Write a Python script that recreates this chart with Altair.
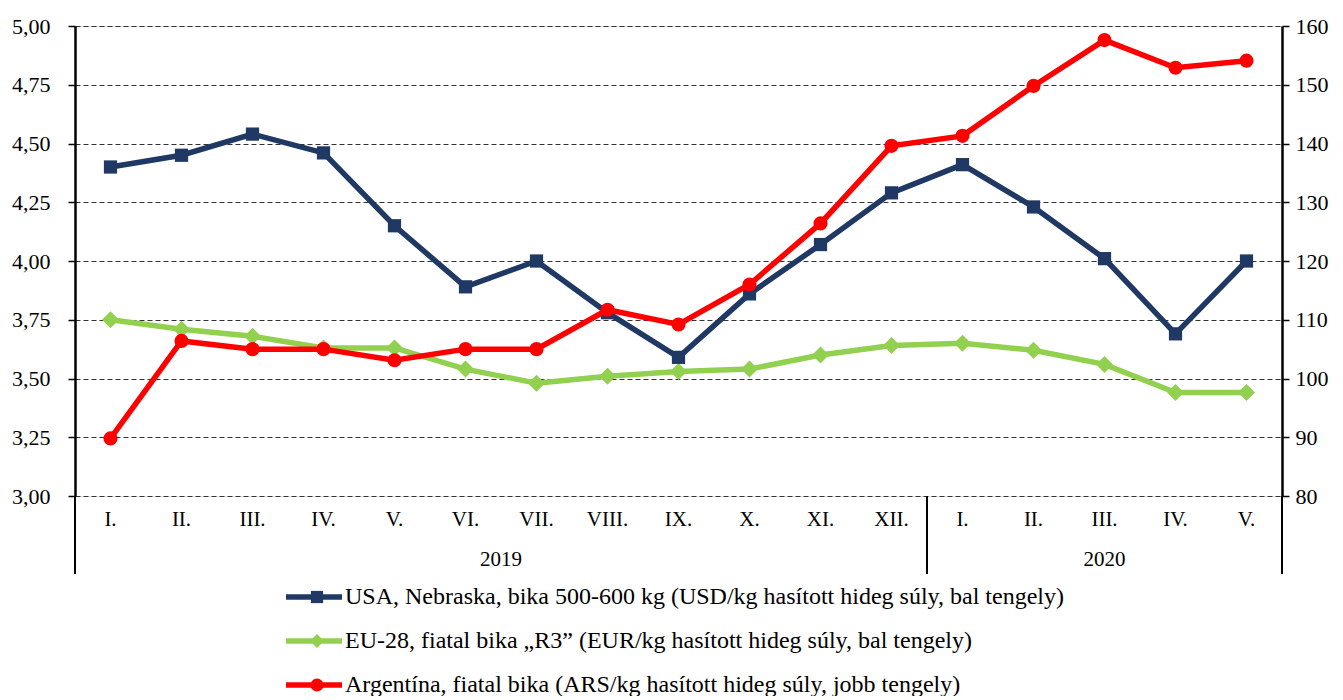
import altair as alt
import pandas as pd

months = ["I.", "II.", "III.", "IV.", "V.", "VI.", "VII.", "VIII.", "IX.", "X.", "XI.", "XII.",
          "I.", "II.", "III.", "IV.", "V."]
years = ["2019", "2020"]
year_pos = [6.0, 14.5]
year_bounds = [0, 12, 17]

usa = [4.40, 4.45, 4.54, 4.46, 4.15, 3.89, 4.00, 3.78, 3.59, 3.86, 4.07, 4.29,
       4.41, 4.23, 4.01, 3.69, 4.00]
eu = [3.75, 3.71, 3.68, 3.63, 3.63, 3.54, 3.48, 3.51, 3.53, 3.54, 3.60, 3.64,
      3.65, 3.62, 3.56, 3.44, 3.44]
arg = [89.8, 106.4, 105.0, 105.0, 103.1, 105.0, 105.0, 111.7, 109.2, 116.0, 126.4, 139.6,
       141.3, 149.8, 157.6, 152.9, 154.1]

names = ["USA, Nebraska, bika 500-600 kg (USD/kg hasított hideg súly, bal tengely)",
         "EU-28, fiatal bika \u201eR3\u201d (EUR/kg hasított hideg súly, bal tengely)",
         "Argentína, fiatal bika (ARS/kg hasított hideg súly, jobb tengely)"]
colors = ["#203864", "#92D050", "#FF0000"]
shapes = ["square", "diamond", "circle"]
sizes = [175, 290, 200]
legend_sizes = [150, 200, 170]

FONT = "Liberation Serif"
W, H = 1207, 470

pos = [i + 0.5 for i in range(len(months))]
df_usa = pd.DataFrame({"pos": pos, "value": usa})
df_eu = pd.DataFrame({"pos": pos, "value": eu})
df_arg = pd.DataFrame({"pos": pos, "value": arg})
df_months = pd.DataFrame({"pos": pos, "label": months})
df_years = pd.DataFrame({"pos": year_pos, "label": years})
df_bounds = pd.DataFrame({"pos": year_bounds})

xscale = alt.Scale(domain=[0, 17], nice=False, zero=False)
x_axis = alt.Axis(values=list(range(18)), labels=False, title=None, grid=False,
                  tickSize=41, tickColor="black", tickWidth=1.5,
                  domainColor="black", domainWidth=2.5)
x_enc = alt.X("pos:Q", scale=xscale, axis=x_axis)
x_noaxis = alt.X("pos:Q", scale=xscale, axis=None)

yl_scale = alt.Scale(domain=[3, 5], nice=False, zero=False)
yl_axis = alt.Axis(values=[3 + 0.25 * i for i in range(9)], title=None,
                   labelExpr="replace(format(datum.value, '.2f'), '.', ',')",
                   grid=True, gridDash=[5, 3], gridColor="#333333", gridWidth=1.2,
                   tickSize=7, tickColor="black", tickWidth=1.5,
                   domainColor="black", domainWidth=2.5,
                   labelFont=FONT, labelFontSize=22, labelColor="black", labelPadding=18)
yr_scale = alt.Scale(domain=[80, 160], nice=False, zero=False)
yr_axis = alt.Axis(values=list(range(80, 161, 10)), title=None, orient="right", grid=False,
                   tickSize=7, tickColor="black", tickWidth=1.5,
                   domainColor="black", domainWidth=2.5,
                   labelFont=FONT, labelFontSize=22, labelColor="black", labelPadding=6)


def series(df, color, shape, size, yenc, first=False):
    xe = x_enc if first else x_noaxis
    line = alt.Chart(df).mark_line(color=color, strokeWidth=5.5).encode(x=xe, y=yenc)
    pts = alt.Chart(df).mark_point(color=color, fill=color, filled=True, opacity=1,
                                   shape=shape, size=size).encode(x=x_noaxis, y=yenc)
    return [line, pts]


y_left = alt.Y("value:Q", scale=yl_scale, axis=yl_axis)
y_right = alt.Y("value:Q", scale=yr_scale, axis=yr_axis)

month_text = alt.Chart(df_months).mark_text(font=FONT, fontSize=21, color="black",
                                             baseline="middle").encode(
    x=x_noaxis, y=alt.value(494), text="label:N")
year_text = alt.Chart(df_years).mark_text(font=FONT, fontSize=21, color="black",
                                           baseline="middle").encode(
    x=x_noaxis, y=alt.value(534), text="label:N")
year_rules = alt.Chart(df_bounds).mark_rule(color="black", strokeWidth=2).encode(
    x=x_noaxis, y=alt.value(H), y2=alt.value(H + 78))

left_layers = (series(df_eu, colors[1], shapes[1], sizes[1], y_left, first=True)
               + series(df_usa, colors[0], shapes[0], sizes[0], y_left)
               + [month_text, year_text, year_rules])

legend_layers = []
for i, (nm, c, sh, sz) in enumerate(zip(names, colors, shapes, legend_sizes)):
    ly = 571 + 44 * i
    ldf = pd.DataFrame({"label": [nm]})
    legend_layers.append(alt.Chart(ldf).mark_rule(color=c, strokeWidth=5.5).encode(
        x=alt.value(211), x2=alt.value(267), y=alt.value(ly)))
    legend_layers.append(alt.Chart(ldf).mark_point(color=c, fill=c, filled=True, opacity=1,
                                                   shape=sh, size=sz).encode(
        x=alt.value(242), y=alt.value(ly)))
    legend_layers.append(alt.Chart(ldf).mark_text(font=FONT, fontSize=24, color="black",
                                                  align="left", baseline="middle").encode(
        x=alt.value(270), y=alt.value(ly), text="label:N"))

left = alt.layer(*(left_layers + legend_layers))
right = alt.layer(*series(df_arg, colors[2], shapes[2], sizes[2], y_right))

chart = alt.layer(left, right).resolve_scale(y="independent").properties(
    width=W, height=H,
    autosize=alt.AutoSizeParams(type="none"),
    padding={"left": 67, "top": 18, "right": 53, "bottom": 200},
).configure_view(strokeWidth=0).configure(background="white")

chart.save("out.html", embed_options={"renderer": "svg", "actions": False})
